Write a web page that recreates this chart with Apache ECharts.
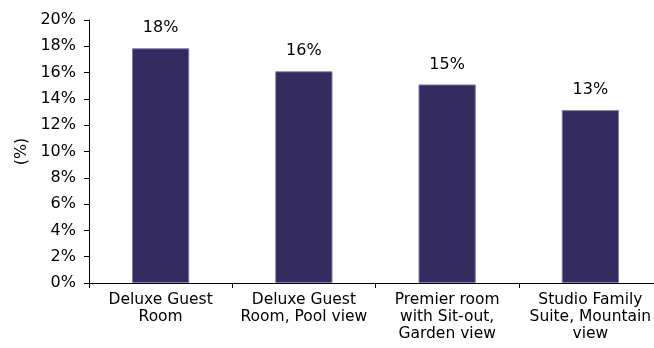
<!DOCTYPE html>
<html>
<head>
<meta charset="utf-8">
<script src="https://cdn.jsdelivr.net/npm/echarts@6/dist/echarts.min.js"></script>
<style>html,body{margin:0;padding:0;background:#fff;overflow:hidden;width:654px;height:348px;}#c{width:662px;height:348px;}</style>
</head>
<body>
<div id="c"></div>
<script>
var categories = ['Deluxe Guest\nRoom', 'Deluxe Guest\nRoom, Pool view', 'Premier room\nwith Sit-out,\nGarden view', 'Studio Family\nSuite, Mountain\nview'];
var values = [17.85, 16.1, 15.1, 13.15];
var valueLabels = ['18%', '16%', '15%', '13%'];
var yTicks = { min: 0, max: 20, interval: 2 };

var font = 'DejaVu Sans, Verdana, sans-serif';
var chart = echarts.init(document.getElementById('c'));
chart.setOption({
  animation: false,
  grid: { left: 89, top: 20, width: 573, height: 263, containLabel: false },
  xAxis: {
    type: 'category',
    data: categories,
    axisLine: { lineStyle: { color: '#000', width: 1 } },
    axisTick: { show: true, alignWithLabel: false, length: 5, lineStyle: { color: '#000' } },
    axisLabel: { color: '#000', fontFamily: font, fontSize: 15.5, lineHeight: 17, margin: 8, interval: 0 }
  },
  yAxis: {
    type: 'value',
    min: yTicks.min, max: yTicks.max, interval: yTicks.interval,
    name: '(%)',
    nameLocation: 'middle',
    nameRotate: 90,
    nameGap: 59,
    nameTextStyle: { color: '#000', fontFamily: font, fontSize: 16 },
    axisLine: { show: true, lineStyle: { color: '#000', width: 1 } },
    axisTick: { show: true, length: 5, lineStyle: { color: '#000' } },
    splitLine: { show: false },
    axisLabel: { color: '#000', fontFamily: font, fontSize: 16, margin: 13, formatter: '{value}%' }
  },
  series: [{
    type: 'bar',
    data: values,
    barCategoryGap: '60%',
    itemStyle: { color: '#332a5f', borderColor: '#857fa8', borderWidth: 1 },
    label: {
      show: true, position: 'top', distance: 12,
      color: '#000', fontFamily: font, fontSize: 16,
      formatter: function (p) { return valueLabels[p.dataIndex]; }
    }
  }]
});
</script>
</body>
</html>
